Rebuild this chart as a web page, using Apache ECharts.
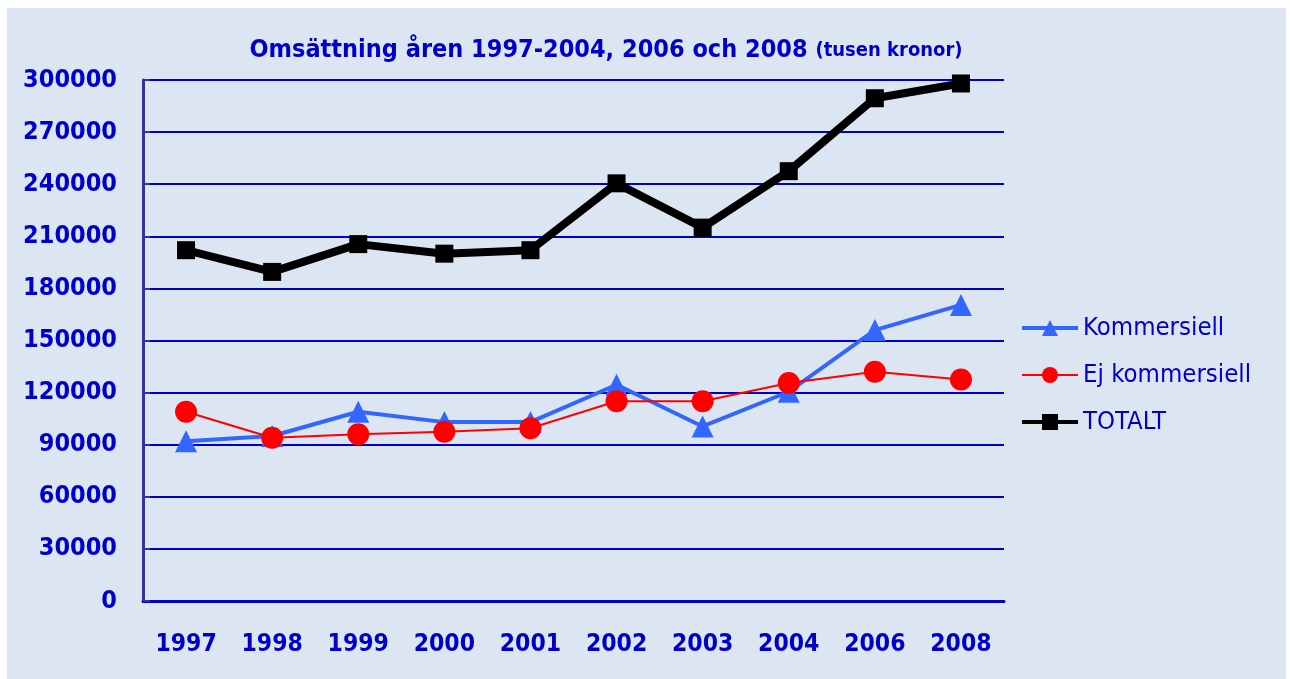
<!DOCTYPE html>
<html>
<head>
<meta charset="utf-8">
<script src="https://cdn.jsdelivr.net/npm/echarts@6/dist/echarts.min.js"></script>
<style>
html,body{margin:0;padding:0;background:#ffffff;}
#chart{width:1290px;height:679px;}
</style>
</head>
<body>
<div id="chart"></div>
<script>
const years = ['1997','1998','1999','2000','2001','2002','2003','2004','2006','2008'];
const kommersiell = [92000, 95000, 109000, 103000, 103000, 124500, 100500, 120500, 156000, 170500];
const ejKommersiell = [109000, 94000, 96000, 97500, 99500, 115000, 115000, 125500, 132000, 127500];
const totalt = [202000, 189500, 205500, 200000, 202000, 240500, 215000, 247500, 289500, 298000];
const titleMain = 'Omsättning åren 1997-2004, 2006 och 2008';
const titleSub = '(tusen kronor)';

const FONT = '"DejaVu Sans Condensed", "DejaVu Sans", sans-serif';
const TXT = '#0000CC';

const chart = echarts.init(document.getElementById('chart'), null, {renderer: 'canvas'});
chart.setOption({
  backgroundColor: 'transparent',
  animation: false,
  graphic: [{
    type: 'rect', z: -10, silent: true,
    shape: {x: 7, y: 8, width: 1279, height: 671},
    style: {fill: '#DCE6F2'}
  }],
  title: {
    text: '{a|' + titleMain + ' }{b|' + titleSub + '}',
    left: 601, top: 33, textAlign: 'center',
    textStyle: {
      rich: {
        a: {fontFamily: FONT, fontWeight: 'bold', fontSize: 25, color: TXT},
        b: {fontFamily: FONT, fontWeight: 'bold', fontSize: 20, color: TXT}
      }
    }
  },
  legend: {
    orient: 'vertical',
    left: 1020, top: 315, padding: 0,
    itemWidth: 56, itemHeight: 20, itemGap: 21,
    textStyle: {fontFamily: FONT, fontSize: 25.5, color: TXT},
    data: [
      {name: 'Kommersiell', lineStyle: {width: 4}},
      {name: 'Ej kommersiell', lineStyle: {width: 2}},
      {name: 'TOTALT', lineStyle: {width: 4}}
    ]
  },
  grid: {left: 143, right: 286, top: 80, bottom: 78, containLabel: false},
  xAxis: {
    type: 'category', data: years, boundaryGap: true,
    axisLine: {lineStyle: {color: '#0000CC', width: 3}},
    axisTick: {inside: true, length: 8, lineStyle: {color: '#0000CC', width: 2}},
    axisLabel: {fontFamily: FONT, fontWeight: 'bold', fontSize: 24.5, color: TXT, margin: 31}
  },
  yAxis: {
    type: 'value', min: 0, max: 300000, interval: 30000,
    axisLine: {show: true, lineStyle: {color: '#333399', width: 3}},
    axisTick: {show: true, inside: true, length: 7, lineStyle: {color: '#333399', width: 2}},
    axisLabel: {fontFamily: FONT, fontWeight: 'bold', fontSize: 25, color: TXT, margin: 26,
      formatter: function (v) { return String(v); }},
    splitLine: {lineStyle: {color: '#0000CC', width: 2}}
  },
  series: [
    {
      name: 'Kommersiell', type: 'line', data: kommersiell,
      symbol: 'triangle', symbolSize: 22,
      lineStyle: {color: '#3366FF', width: 4},
      itemStyle: {color: '#3366FF'}, z: 3
    },
    {
      name: 'Ej kommersiell', type: 'line', data: ejKommersiell,
      symbol: 'circle', symbolSize: 22,
      lineStyle: {color: '#FF0000', width: 2},
      itemStyle: {color: '#FF0000'}, z: 4
    },
    {
      name: 'TOTALT', type: 'line', data: totalt,
      symbol: 'rect', symbolSize: 18,
      lineStyle: {color: '#000000', width: 8},
      itemStyle: {color: '#000000'}, z: 5
    }
  ]
});
</script>
</body>
</html>
